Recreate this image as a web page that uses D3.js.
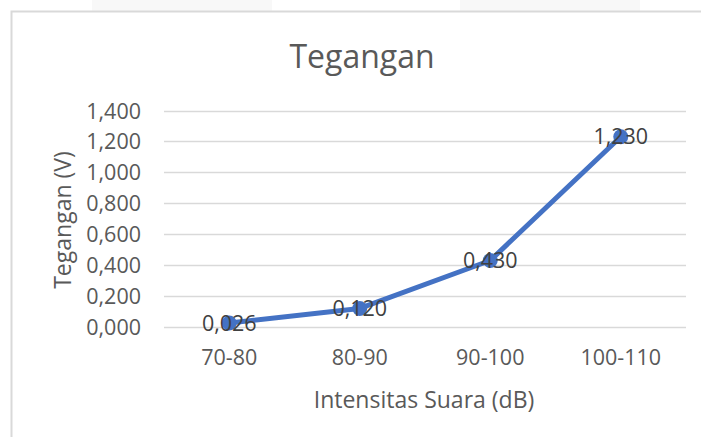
<!DOCTYPE html>
<html><head><meta charset="utf-8">
<script src="https://cdn.jsdelivr.net/npm/d3@7"></script>
<style>body{margin:0;background:#fff}svg{display:block}</style>
</head><body>
<script>
const categories = ["70-80","80-90","90-100","100-110"];
const values = [0.026, 0.120, 0.430, 1.230];
const labels = ["0,026","0,120","0,430","1,230"];
const yTicks = [0,0.2,0.4,0.6,0.8,1.0,1.2,1.4];
const title = "Tegangan";
const xTitle = "Intensitas Suara (dB)";
const yTitle = "Tegangan (V)";

const W=701,H=437;
const FONT="'Open Sans', sans-serif";
const svg=d3.select("body").append("svg").attr("width",W).attr("height",H);

// top strip decorations
svg.append("rect").attr("x",92).attr("y",0).attr("width",180).attr("height",11).attr("fill","#f8f8f8");
svg.append("rect").attr("x",460).attr("y",0).attr("width",180).attr("height",11).attr("fill","#f8f8f8");
// chart frame
svg.append("path").attr("d","M11.5,"+H+"V11.5H"+W).attr("fill","none").attr("stroke","#d9d9d9").attr("stroke-width",2);

const x=d3.scaleBand().domain(categories).range([164,686]);
const y=d3.scaleLinear().domain([0,1.4]).range([327,110.5]);

// gridlines
svg.append("g").selectAll("line").data(yTicks).join("line")
  .attr("x1",164).attr("x2",686).attr("y1",d=>Math.round(y(d))+0.5).attr("y2",d=>Math.round(y(d))+0.5)
  .attr("stroke","#d9d9d9").attr("stroke-width",1.5);

// y axis
const yAxis=d3.axisLeft(y).tickValues(yTicks).tickSize(0).tickPadding(0)
  .tickFormat(d=>d3.format(",.3f")(d).replace(".",","));
const gy=svg.append("g").attr("transform","translate(141,0)").call(yAxis);
gy.select(".domain").remove();
gy.selectAll("text").attr("font-family",FONT).attr("font-size",21.5).attr("fill","#595959").attr("dy","0.35em");

// x axis
const xAxis=d3.axisBottom(x).tickSize(0).tickPadding(0);
const gx=svg.append("g").attr("transform","translate(0,357)").call(xAxis);
gx.select(".domain").remove();
gx.selectAll("text").attr("font-family",FONT).attr("font-size",21.5).attr("fill","#595959").attr("dy","0.35em");

// line
const pts=categories.map((c,i)=>[x(c)+x.bandwidth()/2,y(values[i])]);
svg.append("path").datum(pts).attr("d",d3.line()).attr("fill","none")
  .attr("stroke","#4472c4").attr("stroke-width",5).attr("stroke-linejoin","round");
svg.append("g").selectAll("circle").data(pts).join("circle")
  .attr("cx",d=>d[0]).attr("cy",d=>d[1]).attr("r",7.5).attr("fill","#4472c4");

// data labels
svg.append("g").selectAll("text").data(pts).join("text")
  .attr("x",d=>d[0]).attr("y",d=>d[1]).attr("dy","0.35em").attr("text-anchor","middle")
  .attr("font-family",FONT).attr("font-size",21.5).attr("fill","#404040")
  .text((d,i)=>labels[i]);

// titles
svg.append("text").attr("x",362).attr("y",57).attr("dy","0.35em").attr("text-anchor","middle")
  .attr("font-family",FONT).attr("font-size",32).attr("fill","#595959").text(title);
svg.append("text").attr("x",424).attr("y",400).attr("dy","0.35em").attr("text-anchor","middle")
  .attr("font-family",FONT).attr("font-size",23).attr("fill","#595959").text(xTitle);
svg.append("text").attr("transform","translate(63,220) rotate(-90)").attr("dy","0.35em").attr("text-anchor","middle")
  .attr("font-family",FONT).attr("font-size",23).attr("fill","#595959").text(yTitle);
</script>
</body></html>
